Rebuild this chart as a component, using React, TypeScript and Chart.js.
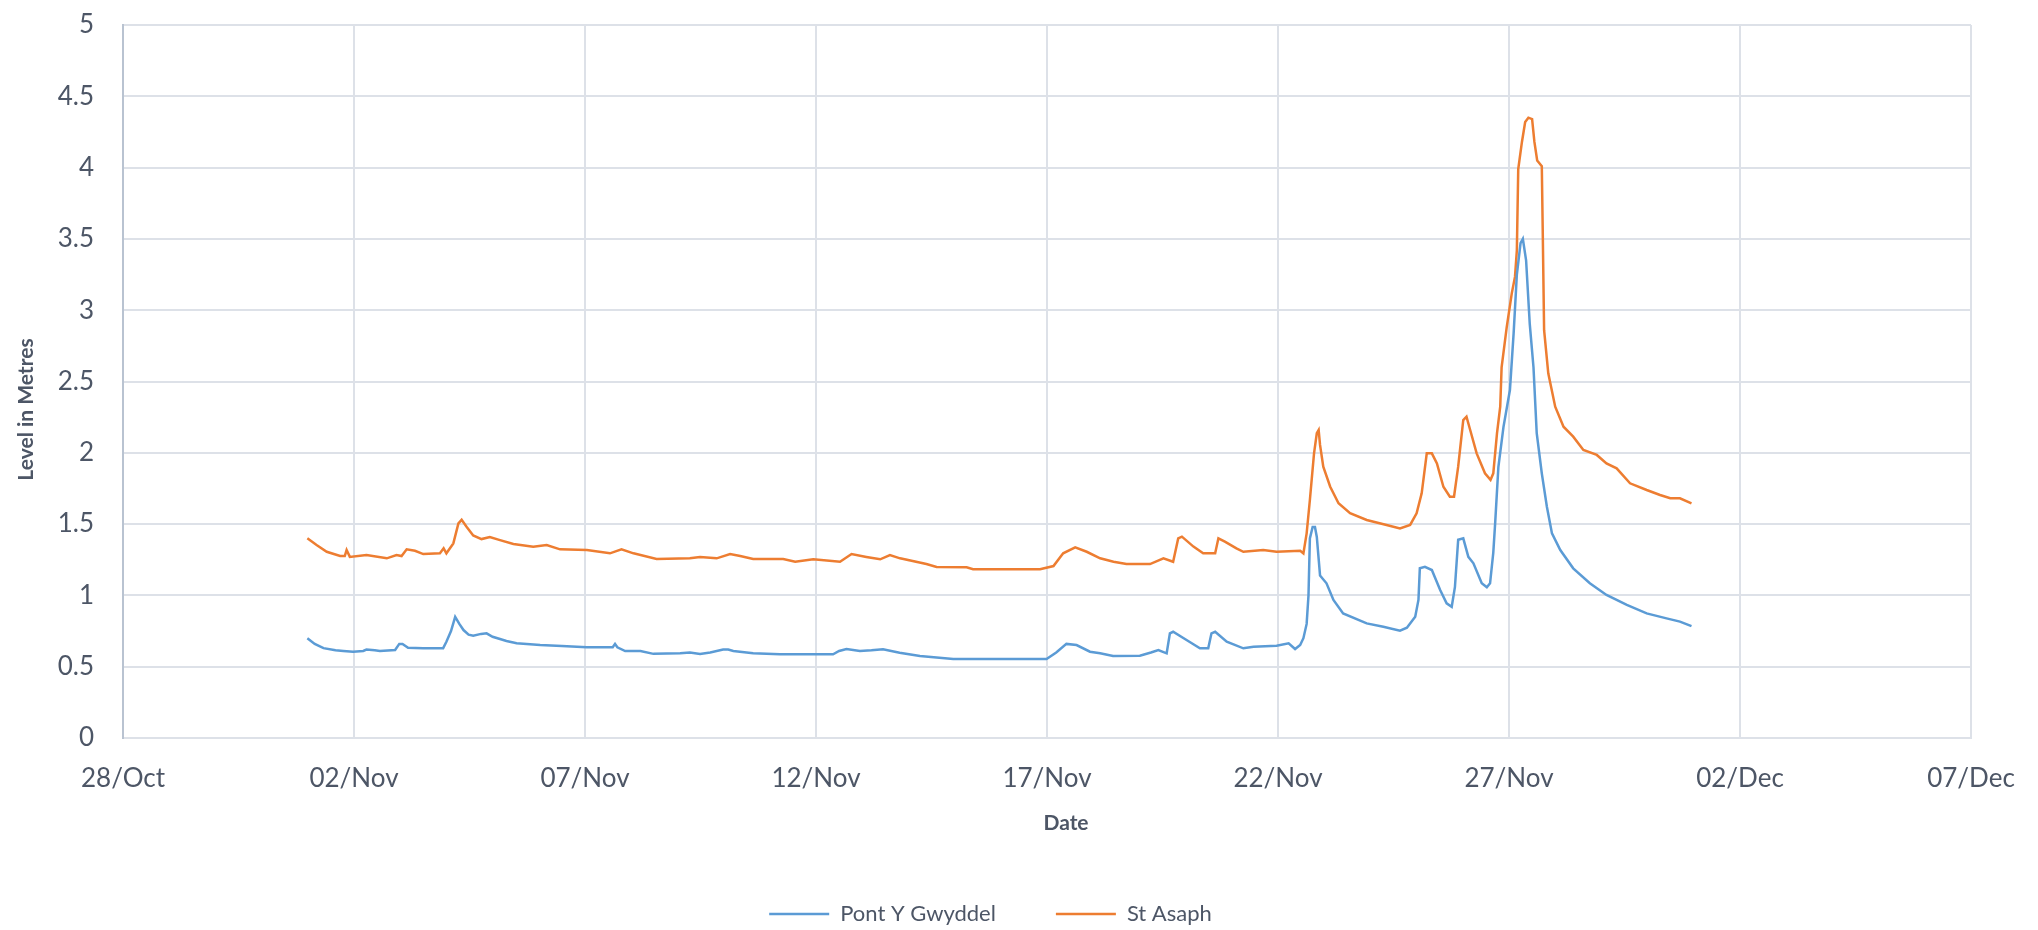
import React, { useEffect, useRef } from "react";
import { Chart, registerables } from "chart.js";

Chart.register(...registerables);

// x values are days counted from 28/Oct 00:00
const xTickLabels = ["28/Oct", "02/Nov", "07/Nov", "12/Nov", "17/Nov", "22/Nov", "27/Nov", "02/Dec", "07/Dec"];
const yTickLabels = ["0", "0.5", "1", "1.5", "2", "2.5", "3", "3.5", "4", "4.5", "5"];

const pontDays = [
  3.99, 4.15, 4.34, 4.6, 4.77, 4.98, 5.2, 5.27, 5.45, 5.56, 5.89, 5.98, 6.05, 6.17, 6.5, 6.93, 7.0, 7.1, 7.19, 7.28,
  7.37, 7.48, 7.58, 7.75, 7.87, 8.0, 8.16, 8.3, 8.52, 9.03, 9.5, 10.04, 10.6, 10.65, 10.7, 10.87, 11.2, 11.48, 12.06, 12.27,
  12.49, 12.71, 12.99, 13.1, 13.21, 13.64, 14.22, 15.37, 15.5, 15.66, 15.95, 16.2, 16.45, 16.81, 17.25, 17.97, 19.99, 20.2, 20.42, 20.64,
  20.93, 21.15, 21.43, 22.01, 22.25, 22.41, 22.59, 22.66, 22.73, 23.02, 23.31, 23.49, 23.56, 23.64, 23.89, 24.25, 24.47, 24.97, 25.23, 25.37,
  25.48, 25.55, 25.62, 25.66, 25.69, 25.75, 25.8, 25.84, 25.91, 26.05, 26.2, 26.41, 26.92, 27.28, 27.64, 27.79, 27.97, 28.04, 28.07, 28.18,
  28.33, 28.51, 28.65, 28.76, 28.83, 28.9, 29.01, 29.12, 29.23, 29.41, 29.52, 29.59, 29.66, 29.7, 29.77, 29.88, 30.02, 30.1, 30.17, 30.25,
  30.3, 30.37, 30.45, 30.53, 30.6, 30.71, 30.82, 30.93, 31.11, 31.39, 31.75, 32.11, 32.55, 32.98, 33.41, 33.7, 33.95,
];
const pontLevels = [
  0.70, 0.66, 0.63, 0.615, 0.61, 0.605, 0.61, 0.62, 0.615, 0.61, 0.617, 0.66, 0.66, 0.633, 0.63, 0.63, 0.675, 0.75, 0.85, 0.80,
  0.757, 0.725, 0.717, 0.73, 0.734, 0.71, 0.694, 0.68, 0.664, 0.652, 0.645, 0.636, 0.636, 0.66, 0.636, 0.61, 0.61, 0.59, 0.594, 0.60,
  0.59, 0.60, 0.62, 0.62, 0.61, 0.594, 0.587, 0.587, 0.61, 0.624, 0.61, 0.615, 0.622, 0.598, 0.575, 0.554, 0.554, 0.60, 0.66, 0.652,
  0.605, 0.594, 0.575, 0.577, 0.60, 0.617, 0.594, 0.734, 0.745, 0.687, 0.629, 0.629, 0.734, 0.745, 0.675, 0.629, 0.64, 0.647, 0.664, 0.624,
  0.652, 0.70, 0.80, 1.0, 1.40, 1.48, 1.48, 1.41, 1.14, 1.085, 0.968, 0.874, 0.804, 0.78, 0.752, 0.773, 0.85, 0.968, 1.19, 1.20,
  1.178, 1.038, 0.944, 0.92, 1.06, 1.39, 1.40, 1.27, 1.225, 1.085, 1.057, 1.085, 1.30, 1.505, 1.90, 2.18, 2.44, 2.838, 3.25, 3.47,
  3.50, 3.35, 2.90, 2.60, 2.137, 1.856, 1.622, 1.435, 1.318, 1.19, 1.085, 1.003, 0.933, 0.874, 0.839, 0.816, 0.785,
];

const asaphDays = [
  3.99, 4.19, 4.41, 4.7, 4.8, 4.84, 4.91, 5.27, 5.71, 5.92, 6.03, 6.14, 6.32, 6.5, 6.86, 6.94, 7.0, 7.15, 7.26, 7.33,
  7.44, 7.58, 7.76, 7.94, 8.16, 8.45, 8.88, 9.17, 9.46, 10.04, 10.54, 10.79, 11.05, 11.55, 12.27, 12.49, 12.85, 13.14, 13.36, 13.64,
  14.29, 14.55, 14.94, 15.52, 15.77, 16.09, 16.39, 16.6, 16.82, 17.39, 17.61, 18.26, 18.4, 19.85, 20.14, 20.35, 20.61, 20.86, 21.15, 21.44,
  21.72, 22.23, 22.52, 22.73, 22.84, 22.92, 23.17, 23.38, 23.64, 23.71, 23.85, 24.1, 24.25, 24.68, 24.97, 25.48, 25.55, 25.62, 25.69, 25.78,
  25.84, 25.88, 25.91, 25.98, 26.13, 26.31, 26.56, 26.92, 27.35, 27.64, 27.86, 28.0, 28.11, 28.22, 28.33, 28.44, 28.58, 28.72, 28.81, 28.9,
  29.01, 29.08, 29.16, 29.3, 29.48, 29.6, 29.66, 29.74, 29.81, 29.84, 29.95, 30.06, 30.13, 30.17, 30.2, 30.28, 30.35, 30.42, 30.5, 30.55,
  30.61, 30.71, 30.73, 30.76, 30.85, 31.0, 31.18, 31.39, 31.61, 31.9, 32.11, 32.33, 32.62, 32.98, 33.27, 33.49, 33.7, 33.95,
];
const asaphLevels = [
  1.40, 1.353, 1.306, 1.276, 1.276, 1.318, 1.27, 1.283, 1.26, 1.283, 1.276, 1.323, 1.313, 1.29, 1.295, 1.33, 1.295, 1.365, 1.505, 1.53,
  1.48, 1.42, 1.395, 1.41, 1.388, 1.36, 1.342, 1.353, 1.323, 1.318, 1.295, 1.323, 1.295, 1.255, 1.26, 1.27, 1.26, 1.29, 1.276, 1.255,
  1.255, 1.236, 1.253, 1.236, 1.29, 1.27, 1.253, 1.283, 1.26, 1.22, 1.20, 1.197, 1.183, 1.183, 1.206, 1.295, 1.337, 1.306, 1.26, 1.236,
  1.22, 1.22, 1.26, 1.236, 1.40, 1.412, 1.342, 1.295, 1.295, 1.40, 1.377, 1.33, 1.306, 1.318, 1.306, 1.313, 1.295, 1.435, 1.669, 1.996,
  2.137, 2.16, 2.055, 1.903, 1.762, 1.646, 1.576, 1.529, 1.494, 1.47, 1.494, 1.576, 1.716, 1.996, 1.996, 1.926, 1.762, 1.692, 1.692, 1.903,
  2.23, 2.253, 2.16, 1.996, 1.856, 1.81, 1.856, 2.137, 2.323, 2.6, 2.88, 3.118, 3.235, 3.42, 3.99, 4.18, 4.32, 4.35, 4.34, 4.18,
  4.05, 4.01, 3.56, 2.86, 2.557, 2.323, 2.183, 2.113, 2.02, 1.985, 1.926, 1.891, 1.786, 1.739, 1.704, 1.681, 1.681, 1.646,
];

const FONT = "Lato, 'Open Sans', sans-serif";
const TEXT = "#4d5666";
const GRID = "#dde1e8";
const LEGEND_SHIFT = 5;
const CANVAS_H = 935;
const X_TITLE_SHIFT = 19;
const Y_TITLE_SHIFT = 28;

export default function App() {
  const ref = useRef<HTMLCanvasElement | null>(null);

  useEffect(() => {
    if (!ref.current) return;
    const layoutTweaks = {
      id: "layoutTweaks",
      afterLayout(chart: any) {
        const lg = chart.legend;
        if (lg) {
          lg.left += LEGEND_SHIFT;
          lg.right += LEGEND_SHIFT;
        }
        const shifts: Record<string, [number, number]> = { x: [X_TITLE_SHIFT, 0], y: [0, Y_TITLE_SHIFT] };
        Object.keys(shifts).forEach((id) => {
          const sc = chart.scales[id];
          if (!sc || sc.__shifted) return;
          const orig = sc.drawTitle.bind(sc);
          sc.drawTitle = () => {
            const ctx = chart.ctx;
            ctx.save();
            ctx.translate(shifts[id][0], shifts[id][1]);
            orig();
            ctx.restore();
          };
          sc.__shifted = true;
        });
      },
    };
    const chart = new Chart(ref.current, {
      type: "line",
      data: {
        datasets: [
          {
            label: "Pont Y Gwyddel",
            data: pontDays.map((d, i) => ({ x: d, y: pontLevels[i] })),
            borderColor: "#5B9BD5",
            backgroundColor: "#5B9BD5",
            borderWidth: 2.5,
            pointRadius: 0,
            tension: 0,
          },
          {
            label: "St Asaph",
            data: asaphDays.map((d, i) => ({ x: d, y: asaphLevels[i] })),
            borderColor: "#ED7D31",
            backgroundColor: "#ED7D31",
            borderWidth: 2.5,
            pointRadius: 0,
            tension: 0,
          },
        ],
      },
      options: {
        animation: false,
        responsive: false,
        maintainAspectRatio: false,
        devicePixelRatio: 1,
        layout: { padding: { top: 25, right: 67, left: 0, bottom: 0 } },
        scales: {
          x: {
            type: "linear",
            min: 0,
            max: 40,
            afterBuildTicks: (s: any) => {
              s.ticks = xTickLabels.map((_, i) => ({ value: i * 5 }));
            },
            ticks: {
              autoSkip: false,
              maxRotation: 0,
              padding: 5,
              color: TEXT,
              font: { family: FONT, size: 26 },
              callback: (v: any) => xTickLabels[Math.round(Number(v) / 5)] ?? "",
            },
            grid: { color: GRID, lineWidth: 2, drawTicks: true, tickLength: 20, tickColor: "rgba(0,0,0,0)" },
            border: { color: GRID, width: 2 },
            title: {
              display: true,
              text: "Date",
              color: TEXT,
              font: { family: FONT, size: 21, weight: "bold" },
              padding: { top: 0, bottom: 7 },
            },
            afterFit: (s: any) => {
              s.height = 105;
            },
          },
          y: {
            min: 0,
            max: 5,
            afterBuildTicks: (s: any) => {
              s.ticks = yTickLabels.map((_, i) => ({ value: i * 0.5 }));
            },
            ticks: {
              padding: 8,
              color: TEXT,
              font: { family: FONT, size: 26 },
              callback: (v: any) => yTickLabels[Math.round(Number(v) * 2)] ?? "",
            },
            grid: { color: GRID, lineWidth: 2, drawTicks: true, tickLength: 21, tickColor: "rgba(0,0,0,0)" },
            border: { color: "#b9c3d1", width: 2 },
            title: {
              display: true,
              text: "Level in Metres",
              color: TEXT,
              font: { family: FONT, size: 21, weight: "bold" },
              padding: { top: 14, bottom: 0 },
            },
            afterFit: (s: any) => {
              s.width = 123;
            },
          },
        },
        plugins: {
          legend: {
            position: "bottom",
            labels: {
              usePointStyle: true,
              pointStyle: "line",
              pointStyleWidth: 60,
              padding: 60,
              color: TEXT,
              font: { family: FONT, size: 22 },
            },
          },
          tooltip: { enabled: false },
        },
      },
      plugins: [layoutTweaks],
    } as any);
    return () => chart.destroy();
  }, []);

  return (
    <div style={{ position: "fixed", left: 0, top: 0, width: 2038, height: CANVAS_H, background: "#fff" }}>
      <canvas ref={ref} width={2038} height={CANVAS_H} style={{ width: 2038, height: CANVAS_H, display: "block" }} />
    </div>
  );
}
